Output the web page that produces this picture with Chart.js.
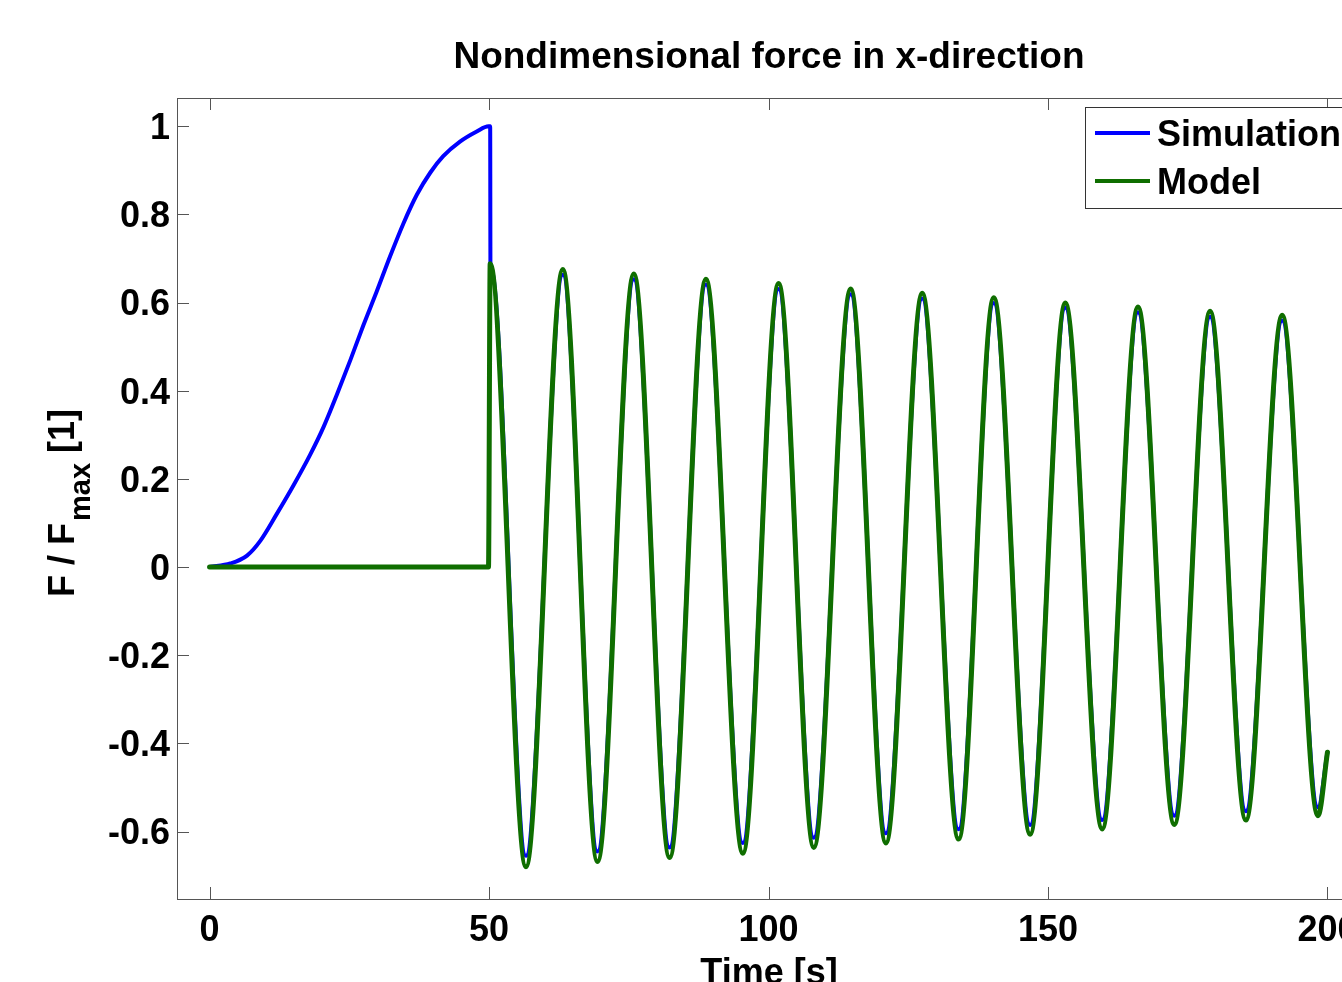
<!DOCTYPE html>
<html>
<head>
<meta charset="utf-8">
<script src="https://cdn.jsdelivr.net/npm/chart.js@4.4.1/dist/chart.umd.min.js"></script>
<style>
  html, body { margin: 0; padding: 0; background: #ffffff; overflow: hidden; }
  #wrap { width: 1400px; height: 982px; }
</style>
</head>
<body>
<div id="wrap"><canvas id="c" width="1400" height="982"></canvas></div>
<script>
// ---------- data ----------
const chartTitle = 'Nondimensional force in x-direction';
const xAxisTitle = 'Time [s]';
const seriesNames = ['Simulation', 'Model'];

const xTickValues = [0, 50, 100, 150, 200];
const xTickLabels = ['0', '50', '100', '150', '200'];
const yTickValues = [-0.6, -0.4, -0.2, 0, 0.2, 0.4, 0.6, 0.8, 1];
const yTickLabels = ['-0.6', '-0.4', '-0.2', '0', '0.2', '0.4', '0.6', '0.8', '1'];

// Simulation (blue)
const simTime = [0, 3.7, 6.7, 9.1, 12.0, 15.0, 18.0, 20.4, 22.8, 25.2, 27.5, 29.9, 32.3, 34.7, 37.1, 39.5, 41.8, 44.8, 47.8, 49.9,
  50.2, 50.25, 50.35, 56.6, 63.2, 69.4, 75.9, 82.3, 88.8, 95.4, 101.8, 108.1, 114.7, 121.0, 127.5, 134.0, 140.3, 146.8, 153.1, 159.7, 166.1, 172.6, 179.0, 185.4, 191.9, 198.3, 200.0];
const simForce = [0, 0.008, 0.026, 0.06, 0.12, 0.185, 0.255, 0.318, 0.392, 0.47, 0.548, 0.625, 0.705, 0.78, 0.845, 0.895, 0.932, 0.965, 0.988, 1.0,
  1.0, 0.676, 0.676, -0.655, 0.663, -0.645, 0.653, -0.636, 0.641, -0.626, 0.631, -0.614, 0.619, -0.604, 0.609, -0.595, 0.599, -0.585, 0.588, -0.574, 0.578, -0.564, 0.568, -0.554, 0.559, -0.545, -0.42];

// Model (green)
const modelTime = [0, 49.9, 50.2, 56.6, 63.2, 69.4, 75.9, 82.3, 88.8, 95.4, 101.8, 108.1, 114.7, 121.0, 127.5, 134.0, 140.3, 146.8, 153.1, 159.7, 166.1, 172.6, 179.0, 185.4, 191.9, 198.3, 200.0];
const modelForce = [0, 0, 0.688, -0.680, 0.675, -0.668, 0.665, -0.659, 0.653, -0.649, 0.643, -0.636, 0.631, -0.626, 0.621, -0.617, 0.611, -0.606, 0.599, -0.594, 0.590, -0.584, 0.580, -0.574, 0.571, -0.564, -0.42];

const xRange = [-5.83, 206];
const yRange = [-0.753, 1.064];

// ---------- styling ----------
const FONT = '"Liberation Sans", Arial, Helvetica, sans-serif';
const BLUE = '#0000ff';
const GREEN = '#0f6e00';
const AXIS = '#555555';

function pts(xs, ys) { return xs.map((x, i) => ({ x: x, y: ys[i] })); }

const decor = {
  id: 'decor',
  afterDraw(chart) {
    const ctx = chart.ctx;
    const a = chart.chartArea;
    const xs = chart.scales.x, ys = chart.scales.y;
    ctx.save();
    // axes box
    ctx.strokeStyle = AXIS;
    ctx.lineWidth = 1;
    ctx.strokeRect(Math.round(a.left) + 0.5, Math.round(a.top) + 0.5, Math.round(a.right - a.left), Math.round(a.bottom - a.top));
    // inward ticks
    const tl = 12;
    ctx.beginPath();
    xTickValues.forEach(v => {
      const p = Math.round(xs.getPixelForValue(v)) + 0.5;
      ctx.moveTo(p, a.bottom); ctx.lineTo(p, a.bottom - tl);
      ctx.moveTo(p, a.top); ctx.lineTo(p, a.top + tl);
    });
    yTickValues.forEach(v => {
      const p = Math.round(ys.getPixelForValue(v)) + 0.5;
      ctx.moveTo(a.left, p); ctx.lineTo(a.left + tl, p);
      ctx.moveTo(a.right, p); ctx.lineTo(a.right - tl, p);
    });
    ctx.stroke();

    // title
    const cx = (a.left + a.right) / 2;
    ctx.fillStyle = '#000';
    ctx.textAlign = 'center';
    ctx.textBaseline = 'alphabetic';
    ctx.font = 'bold 37px ' + FONT;
    ctx.fillText(chartTitle, cx, 68);
    // x axis title
    ctx.font = 'bold 36px ' + FONT;
    ctx.fillText(xAxisTitle, cx, 984);

    // y axis title with subscript
    ctx.save();
    ctx.translate(74, 597);
    ctx.rotate(-Math.PI / 2);
    ctx.textAlign = 'left';
    ctx.font = 'bold 36px ' + FONT;
    const p1 = 'F / F';
    ctx.fillText(p1, 0, 0);
    let w = ctx.measureText(p1).width + 2;
    ctx.font = 'bold 29px ' + FONT;
    ctx.fillText('max', w, 16);
    w += ctx.measureText('max').width;
    ctx.font = 'bold 36px ' + FONT;
    ctx.fillText(' [1]', w, 0);
    ctx.restore();

    // legend
    const lx = 1085, ly = 107, lb = 208;
    ctx.fillStyle = '#fff';
    ctx.fillRect(lx, ly, 1400 - lx, lb - ly);
    ctx.strokeStyle = '#333';
    ctx.lineWidth = 1;
    ctx.strokeRect(lx + 0.5, ly + 0.5, 1400 - lx, lb - ly);
    const rows = [
      { y: 133, color: BLUE, w: 4, text: seriesNames[0] },
      { y: 181, color: GREEN, w: 4, text: seriesNames[1] }
    ];
    rows.forEach(r => {
      ctx.strokeStyle = r.color;
      ctx.lineWidth = r.w;
      ctx.beginPath();
      ctx.moveTo(1095, r.y); ctx.lineTo(1150, r.y);
      ctx.stroke();
      ctx.fillStyle = '#000';
      ctx.textAlign = 'left';
      ctx.textBaseline = 'alphabetic';
      ctx.font = 'bold 36px ' + FONT;
      ctx.fillText(r.text, 1157, r.y + 13);
    });
    ctx.restore();
  }
};

new Chart(document.getElementById('c'), {
  type: 'line',
  data: {
    datasets: [
      {
        label: seriesNames[0],
        data: pts(simTime, simForce),
        borderColor: BLUE,
        backgroundColor: BLUE,
        borderWidth: 4,
        pointRadius: 0,
        fill: false,
        cubicInterpolationMode: 'monotone',
        borderJoinStyle: 'round',
        borderCapStyle: 'round',
        order: 1
      },
      {
        label: seriesNames[1],
        data: pts(modelTime, modelForce),
        borderColor: GREEN,
        backgroundColor: GREEN,
        borderWidth: 5,
        pointRadius: 0,
        fill: false,
        cubicInterpolationMode: 'monotone',
        borderJoinStyle: 'round',
        borderCapStyle: 'round',
        order: 0
      }
    ]
  },
  options: {
    responsive: false,
    animation: false,
    devicePixelRatio: 1,
    layout: { padding: { top: 98, right: 39, left: 0, bottom: 0 } },
    plugins: {
      legend: { display: false },
      title: { display: false },
      tooltip: { enabled: false }
    },
    scales: {
      x: {
        type: 'linear',
        min: xRange[0],
        max: xRange[1],
        afterBuildTicks: s => { s.ticks = xTickValues.map(v => ({ value: v })); },
        afterFit: s => { s.height = 83; },
        grid: { display: false, drawTicks: false },
        border: { display: false },
        ticks: {
          padding: 10,
          maxRotation: 0,
          autoSkip: false,
          color: '#000',
          font: { family: FONT, size: 36, weight: 'bold' },
          callback: (v) => xTickLabels[xTickValues.indexOf(v)]
        }
      },
      y: {
        type: 'linear',
        min: yRange[0],
        max: yRange[1],
        afterBuildTicks: s => { s.ticks = yTickValues.map(v => ({ value: v })); },
        afterFit: s => { s.width = 177; },
        grid: { display: false, drawTicks: false },
        border: { display: false },
        ticks: {
          padding: 7,
          labelOffset: 3,
          autoSkip: false,
          color: '#000',
          font: { family: FONT, size: 36, weight: 'bold' },
          callback: (v) => {
            const i = yTickValues.findIndex(t => Math.abs(t - v) < 1e-9);
            return i >= 0 ? yTickLabels[i] : '';
          }
        }
      }
    }
  },
  plugins: [decor]
});
</script>
</body>
</html>
